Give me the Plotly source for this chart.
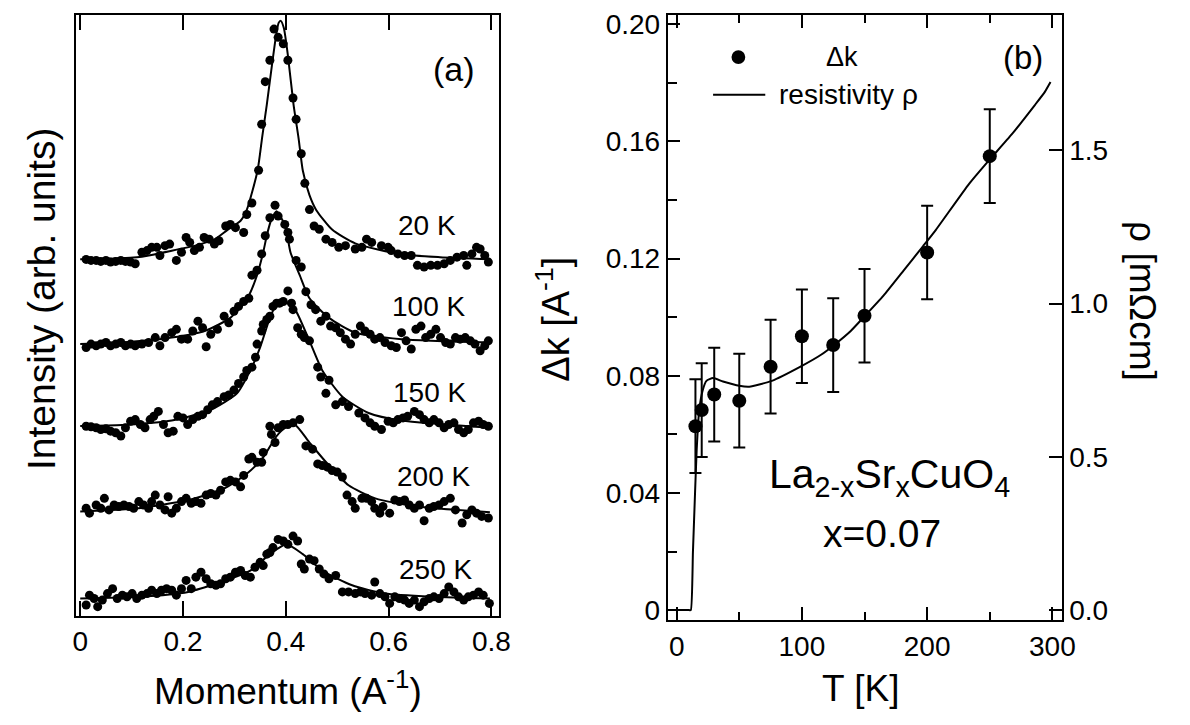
import plotly.graph_objects as go

# ---------------- Panel (a): momentum distribution curves ----------------
pts_20K = [(0.0115,3.617),(0.021,3.607),(0.031,3.607),(0.040,3.597),(0.050,3.607),(0.059,3.59),(0.069,3.597),(0.079,3.607),(0.088,3.597),(0.098,3.59),(0.107,3.573),(0.120,3.69),(0.130,3.707),(0.139,3.74),(0.149,3.74),(0.155,3.657),(0.165,3.757),(0.174,3.773),(0.187,3.607),(0.197,3.69),(0.206,3.84),(0.213,3.79),(0.222,3.707),(0.232,3.74),(0.241,3.84),(0.251,3.823),(0.261,3.773),(0.270,3.807),(0.283,3.957),(0.292,3.973),(0.302,3.94),(0.318,3.89),(0.324,4.073),(0.334,4.19),(0.347,4.523),(0.353,4.99),(0.360,5.423),(0.369,5.64),(0.377,5.957),(0.385,5.873),(0.395,5.807),(0.404,5.64),(0.414,5.257),(0.420,5.04),(0.430,4.69),(0.437,4.39),(0.446,4.123),(0.455,3.957),(0.465,3.923),(0.478,3.823),(0.490,3.79),(0.503,3.74),(0.516,3.757),(0.535,3.723),(0.548,3.74),(0.557,3.823),(0.567,3.79),(0.586,3.757),(0.599,3.74),(0.605,3.707),(0.618,3.673),(0.631,3.657),(0.644,3.657),(0.656,3.557),(0.669,3.54),(0.682,3.557),(0.695,3.557),(0.708,3.573),(0.720,3.607),(0.733,3.64),(0.746,3.657),(0.752,3.557),(0.762,3.673),(0.771,3.74),(0.778,3.723),(0.787,3.657),(0.794,3.59)]
pts_100K = [(0.0115,2.723),(0.021,2.757),(0.031,2.74),(0.040,2.757),(0.050,2.773),(0.059,2.74),(0.069,2.757),(0.079,2.773),(0.088,2.74),(0.098,2.757),(0.107,2.74),(0.120,2.757),(0.133,2.773),(0.146,2.823),(0.155,2.74),(0.165,2.823),(0.178,2.873),(0.187,2.907),(0.197,2.807),(0.209,2.807),(0.219,2.89),(0.229,2.99),(0.238,2.923),(0.245,2.73),(0.254,2.857),(0.267,2.907),(0.280,3.04),(0.289,2.973),(0.299,3.09),(0.308,3.14),(0.318,3.19),(0.328,3.223),(0.334,3.457),(0.344,3.507),(0.353,3.673),(0.360,3.857),(0.369,4.04),(0.379,4.167),(0.385,4.057),(0.398,3.973),(0.404,3.89),(0.407,3.823),(0.420,3.607),(0.430,3.54),(0.439,3.29),(0.449,3.157),(0.458,3.107),(0.468,2.99),(0.478,3.04),(0.487,2.94),(0.497,2.923),(0.506,2.873),(0.516,2.807),(0.526,2.757),(0.535,2.857),(0.545,2.94),(0.554,2.89),(0.564,2.857),(0.573,2.807),(0.583,2.823),(0.593,2.773),(0.605,2.74),(0.615,2.723),(0.625,2.873),(0.634,2.79),(0.644,2.707),(0.653,2.907),(0.663,2.94),(0.672,2.823),(0.682,2.857),(0.692,2.907),(0.701,2.823),(0.711,2.773),(0.720,2.757),(0.730,2.823),(0.739,2.807),(0.749,2.823),(0.759,2.79),(0.768,2.757),(0.778,2.69),(0.787,2.74),(0.794,2.79)]
pts_150K = [(0.0115,1.923),(0.021,1.917),(0.031,1.907),(0.040,1.89),(0.050,1.897),(0.059,1.873),(0.069,1.857),(0.079,1.823),(0.088,1.907),(0.098,1.973),(0.107,1.99),(0.117,1.94),(0.126,1.907),(0.136,1.99),(0.143,2.023),(0.152,2.073),(0.162,1.94),(0.171,1.857),(0.181,1.873),(0.190,2.023),(0.200,2.007),(0.209,1.94),(0.219,1.99),(0.229,2.023),(0.238,2.04),(0.248,2.09),(0.257,2.14),(0.267,2.173),(0.280,2.223),(0.289,2.24),(0.299,2.29),(0.308,2.357),(0.318,2.423),(0.324,2.49),(0.334,2.523),(0.341,2.623),(0.344,2.757),(0.353,2.89),(0.356,2.957),(0.363,3.007),(0.369,3.04),(0.375,3.14),(0.382,3.173),(0.388,3.173),(0.395,3.19),(0.404,3.297),(0.411,3.173),(0.414,3.107),(0.423,2.923),(0.430,2.857),(0.436,2.823),(0.446,2.79),(0.462,2.523),(0.468,2.423),(0.478,2.257),(0.484,2.39),(0.497,2.14),(0.510,2.173),(0.522,2.123),(0.542,2.057),(0.554,2.007),(0.564,1.957),(0.573,1.923),(0.586,1.89),(0.599,1.973),(0.609,1.957),(0.618,1.99),(0.628,2.007),(0.637,2.023),(0.650,2.073),(0.660,2.04),(0.669,1.99),(0.679,1.957),(0.688,1.99),(0.698,1.957),(0.708,1.907),(0.717,1.94),(0.727,1.957),(0.736,1.89),(0.746,1.857),(0.755,1.89),(0.765,1.957),(0.775,1.973),(0.784,1.94),(0.794,1.923)]
pts_200K = [(0.0115,1.09),(0.018,1.04),(0.031,1.123),(0.040,1.09),(0.047,1.19),(0.056,1.073),(0.066,1.123),(0.075,1.107),(0.085,1.123),(0.095,1.107),(0.104,1.09),(0.114,1.157),(0.123,1.123),(0.133,1.09),(0.139,1.157),(0.146,1.223),(0.155,1.123),(0.165,1.073),(0.171,1.207),(0.178,1.04),(0.187,1.09),(0.197,1.157),(0.206,1.19),(0.216,1.14),(0.225,1.157),(0.235,1.14),(0.245,1.223),(0.254,1.24),(0.264,1.223),(0.273,1.273),(0.283,1.357),(0.292,1.373),(0.302,1.357),(0.312,1.307),(0.318,1.423),(0.328,1.59),(0.334,1.607),(0.344,1.557),(0.353,1.557),(0.356,1.657),(0.369,1.923),(0.372,1.84),(0.379,1.757),(0.385,1.907),(0.395,1.94),(0.404,1.94),(0.414,1.957),(0.427,1.99),(0.439,1.723),(0.452,1.69),(0.462,1.54),(0.471,1.523),(0.481,1.507),(0.490,1.473),(0.500,1.457),(0.510,1.407),(0.519,1.223),(0.529,1.157),(0.535,1.09),(0.548,1.19),(0.557,1.19),(0.567,1.157),(0.573,1.09),(0.583,1.04),(0.589,1.107),(0.602,1.04),(0.612,1.173),(0.621,1.157),(0.631,1.173),(0.640,1.123),(0.650,1.09),(0.660,1.123),(0.669,0.963),(0.679,1.09),(0.688,1.107),(0.698,1.123),(0.708,1.157),(0.720,1.19),(0.730,1.073),(0.743,0.94),(0.752,1.023),(0.762,1.073),(0.771,1.04),(0.781,1.007),(0.794,0.99)]
pts_250K = [(0.0115,0.107),(0.018,0.207),(0.027,0.173),(0.034,0.09),(0.043,0.157),(0.053,0.223),(0.063,0.273),(0.072,0.173),(0.082,0.207),(0.091,0.19),(0.101,0.223),(0.110,0.173),(0.120,0.207),(0.130,0.223),(0.139,0.257),(0.149,0.223),(0.158,0.257),(0.168,0.273),(0.178,0.257),(0.187,0.207),(0.197,0.273),(0.206,0.357),(0.216,0.273),(0.225,0.39),(0.235,0.44),(0.245,0.373),(0.254,0.323),(0.264,0.307),(0.273,0.323),(0.283,0.373),(0.292,0.39),(0.302,0.44),(0.312,0.457),(0.321,0.407),(0.331,0.39),(0.340,0.49),(0.350,0.54),(0.356,0.507),(0.363,0.623),(0.369,0.64),(0.375,0.69),(0.385,0.773),(0.395,0.757),(0.404,0.723),(0.414,0.807),(0.423,0.757),(0.430,0.523),(0.436,0.473),(0.446,0.573),(0.455,0.557),(0.465,0.473),(0.474,0.423),(0.484,0.373),(0.497,0.407),(0.510,0.24),(0.522,0.24),(0.535,0.223),(0.545,0.24),(0.554,0.223),(0.567,0.207),(0.573,0.34),(0.583,0.223),(0.593,0.19),(0.602,0.123),(0.612,0.19),(0.621,0.173),(0.631,0.157),(0.640,0.123),(0.650,0.157),(0.660,0.09),(0.669,0.14),(0.679,0.173),(0.688,0.19),(0.698,0.173),(0.708,0.223),(0.717,0.29),(0.727,0.24),(0.736,0.19),(0.746,0.157),(0.755,0.19),(0.765,0.207),(0.775,0.24),(0.784,0.207),(0.796,0.123)]

fit_20K = [(0.0,3.62),(0.06,3.625),(0.12,3.645),(0.178,3.705),(0.229,3.765),(0.261,3.82),(0.286,3.915),(0.312,4.01),(0.324,4.12),(0.345,4.52),(0.354,4.86),(0.363,5.19),(0.373,5.59),(0.381,5.89),(0.386,6.02),(0.390,6.04),(0.396,5.97),(0.404,5.69),(0.415,5.19),(0.425,4.84),(0.433,4.52),(0.446,4.27),(0.459,4.12),(0.490,3.92),(0.535,3.78),(0.625,3.67),(0.70,3.64),(0.798,3.62)]
fit_100K = [(0.0,2.757),(0.082,2.773),(0.178,2.823),(0.242,2.89),(0.292,3.023),(0.325,3.223),(0.344,3.457),(0.356,3.69),(0.363,3.86),(0.371,4.01),(0.382,4.107),(0.392,4.03),(0.400,3.94),(0.409,3.69),(0.427,3.457),(0.446,3.223),(0.484,3.023),(0.535,2.873),(0.625,2.807),(0.797,2.773)]
fit_150K = [(0.0,1.925),(0.082,1.935),(0.178,1.98),(0.254,2.09),(0.305,2.257),(0.331,2.49),(0.350,2.723),(0.369,3.023),(0.381,3.15),(0.395,3.19),(0.407,3.16),(0.420,3.09),(0.446,2.79),(0.471,2.49),(0.510,2.223),(0.561,2.057),(0.625,1.98),(0.797,1.907)]
fit_200K = [(0.0,1.057),(0.114,1.09),(0.210,1.173),(0.280,1.29),(0.324,1.44),(0.356,1.607),(0.382,1.823),(0.400,1.91),(0.417,1.94),(0.446,1.757),(0.484,1.523),(0.522,1.323),(0.574,1.19),(0.656,1.107),(0.797,1.05)]
fit_250K = [(0.0,0.173),(0.114,0.19),(0.210,0.24),(0.273,0.34),(0.331,0.457),(0.369,0.623),(0.401,0.723),(0.433,0.623),(0.471,0.457),(0.529,0.307),(0.593,0.223),(0.689,0.19),(0.797,0.173)]

temp_labels = ["20 K", "100 K", "150 K", "200 K", "250 K"]
label_pos = [(0.674, 3.96), (0.678, 3.14), (0.680, 2.27), (0.688, 1.41), (0.692, 0.47)]
momentum_ticks = [0, 0.2, 0.4, 0.6, 0.8]

# ---------------- Panel (b): Δk and resistivity ----------------
T_dk = [15, 20, 30, 50, 75, 100, 125, 150, 200, 250]
dk = [0.0628, 0.0683, 0.0736, 0.0715, 0.0831, 0.0935, 0.0905, 0.1005, 0.1221, 0.155]
dk_err = [0.016, 0.016, 0.016, 0.016, 0.016, 0.016, 0.016, 0.016, 0.016, 0.016]

T_rho = [2, 6, 10, 11.3, 13, 14.7, 16, 18, 20.7, 23.8, 29, 37, 50, 58, 76, 100, 115.6, 126, 139, 149.6, 165.3, 181, 196.8, 207, 233.5, 249, 267.5, 286, 294, 298.5]
rho = [0.0, 0.0, 0.0, 0.0, 0.19, 0.385, 0.524, 0.652, 0.716, 0.748, 0.757, 0.746, 0.732, 0.729, 0.748, 0.797, 0.834, 0.866, 0.911, 0.957, 1.027, 1.107, 1.188, 1.241, 1.391, 1.466, 1.552, 1.648, 1.691, 1.723]

dk_ticks = [0, 0.04, 0.08, 0.12, 0.16, 0.20]
dk_ticktext = ["0", "0.04", "0.08", "0.12", "0.16", "0.20"]
rho_ticks = [0.0, 0.5, 1.0, 1.5]
T_ticks = [0, 100, 200, 300]

FONT = "Liberation Sans, Arial, sans-serif"
# the page body has an 8 px margin, so the figure is offset by 8 px
OFF = 8
W, H = 1190 - 2 * OFF, 725 - 2 * OFF

def px(x):
    return (x - OFF) / W

def py(y):
    return 1 - (y - OFF) / H

TOP = 9.5  # top frame line (pixel row in the page)

fig = go.Figure()

for pts, fit in [(pts_20K, fit_20K), (pts_100K, fit_100K), (pts_150K, fit_150K),
                 (pts_200K, fit_200K), (pts_250K, fit_250K)]:
    fig.add_trace(go.Scatter(x=[p[0] for p in fit], y=[p[1] for p in fit], mode="lines",
                             line=dict(color="black", width=2, shape="spline", smoothing=0.6),
                             xaxis="x", yaxis="y", showlegend=False, hoverinfo="skip"))
    fig.add_trace(go.Scatter(x=[p[0] for p in pts], y=[p[1] for p in pts], mode="markers",
                             marker=dict(color="black", size=9),
                             xaxis="x", yaxis="y", showlegend=False))

fig.add_trace(go.Scatter(x=T_rho, y=rho, mode="lines",
                         line=dict(color="black", width=2, shape="spline", smoothing=0.5),
                         xaxis="x2", yaxis="y3", showlegend=False))
fig.add_trace(go.Scatter(x=T_dk, y=dk, mode="markers",
                         marker=dict(color="black", size=14),
                         error_y=dict(type="data", array=dk_err, color="black", thickness=2, width=6),
                         xaxis="x2", yaxis="y2", showlegend=False))

tickfont = dict(family=FONT, size=28, color="black")
axcommon = dict(showgrid=False, zeroline=False, showline=True, linecolor="black", linewidth=2,
                ticks="inside", tickcolor="black", tickwidth=2, tickfont=tickfont,
                layer="above traces", ticklabeloverflow="allow")

fig.update_layout(
    width=W, height=H, margin=dict(l=0, r=0, t=0, b=0),
    paper_bgcolor="white", plot_bgcolor="white",
    font=dict(family=FONT, color="black"),
    xaxis=dict(domain=[px(73), px(503)], range=[-0.0082, 0.8155], anchor="y",
               tickvals=momentum_ticks, ticktext=["0", "0.2", "0.4", "0.6", "0.8"],
               ticklen=15, mirror="ticks", **axcommon),
    yaxis=dict(domain=[py(619), py(TOP)], range=[0, (619 - TOP) / 100], anchor="x",
               showgrid=False, zeroline=False, showline=True, linecolor="black", linewidth=2,
               mirror=True, ticks="", showticklabels=False),
    xaxis2=dict(domain=[px(674), px(1074)], range=[-7.08, 307.4], anchor="y2",
                tickvals=T_ticks, ticklen=13, mirror="ticks",
                minor=dict(tickvals=[50, 150, 250], ticklen=8, tickcolor="black", tickwidth=2, ticks="inside"),
                **axcommon),
    yaxis2=dict(domain=[py(624), py(TOP)], range=[-0.00353, (613.5 - TOP) / 119 * 0.04], anchor="x2",
                tickvals=dk_ticks, ticktext=dk_ticktext, ticklen=12, mirror=True,
                minor=dict(tickvals=[0.02, 0.06, 0.10, 0.14, 0.18], ticklen=9, tickcolor="black", tickwidth=2, ticks="inside"),
                **axcommon),
    yaxis3=dict(range=[-0.0337, (613.5 - TOP) / 311.3], overlaying="y2", side="right", anchor="x2",
                tickvals=rho_ticks, tickformat=".1f", ticklen=13,
                **axcommon),
)

ann = []
def add_text(text, x, y, size, angle=0, xanchor="center", yanchor="middle"):
    ann.append(dict(text=text, x=px(x), y=py(y), xref="paper", yref="paper", showarrow=False,
                    textangle=angle, xanchor=xanchor, yanchor=yanchor,
                    font=dict(family=FONT, size=size, color="black")))

add_text("Intensity (arb. units)", 38, 298, 39, angle=-90)
add_text("Momentum (A<sup>-1</sup>)", 288, 693, 37)
add_text("Δk [A<sup>-1</sup>]", 558, 318, 38, angle=-90)
add_text("ρ [mΩcm]", 1156, 300, 37, angle=90)
add_text("T [K]", 870, 693, 37)
add_text("(a)", 457, 64, 34)
add_text("(b)", 1035, 52, 33)
add_text("Δk", 851, 52, 27)
add_text("resistivity ρ", 785, 90, 28, xanchor="left")
add_text("La<sub>2-x</sub>Sr<sub>x</sub>CuO<sub>4</sub>", 899, 478, 41)
add_text("x=0.07", 892, 536, 39)

for lab, (kx, iy) in zip(temp_labels, label_pos):
    ann.append(dict(text=lab, x=kx, y=iy, xref="x", yref="y", showarrow=False,
                    xanchor="center", yanchor="middle",
                    font=dict(family=FONT, size=28, color="black")))

fig.update_layout(annotations=ann)

# legend symbols (drawn in paper space)
fig.add_shape(type="circle", xref="paper", yref="paper",
              x0=px(738.7), x1=px(752.7), y0=py(58.7), y1=py(44.7),
              fillcolor="black", line=dict(color="black", width=0))
fig.add_shape(type="line", xref="paper", yref="paper",
              x0=px(720), x1=px(773), y0=py(90), y1=py(90),
              line=dict(color="black", width=2))

fig.write_html("out.html")
